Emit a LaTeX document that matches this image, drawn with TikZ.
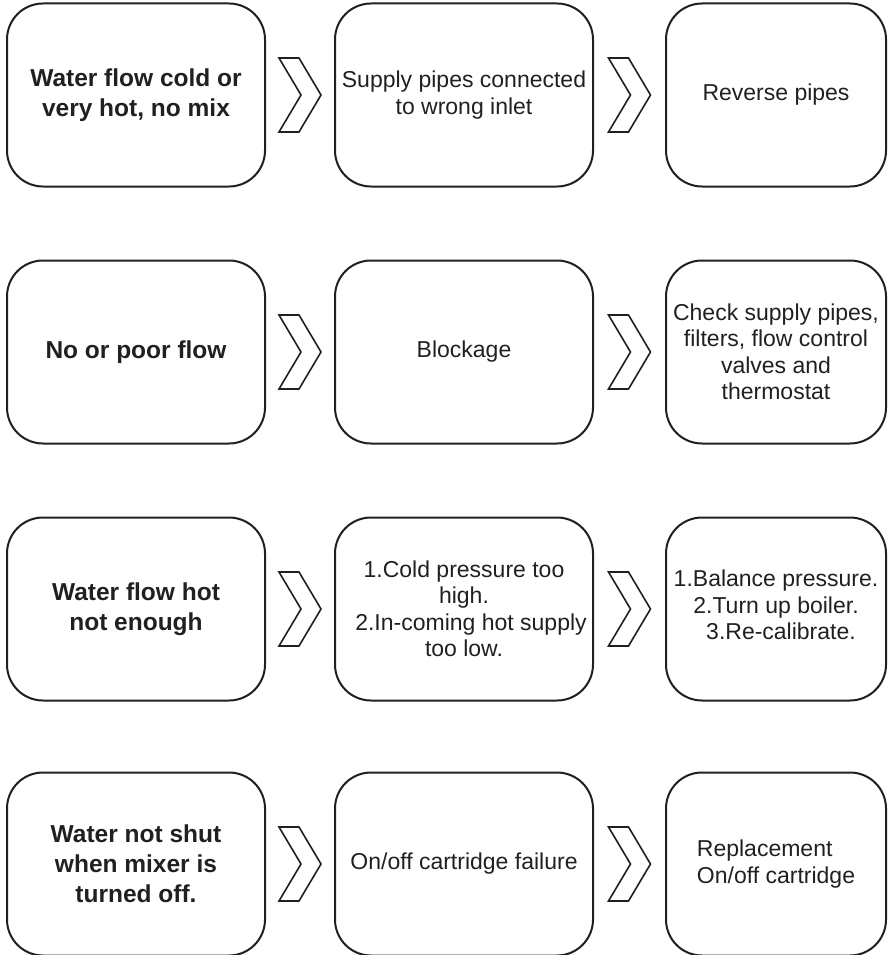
\documentclass[tikz,border=0pt]{standalone}
\usepackage{fontspec}
\setmainfont{Liberation Sans}
\usetikzlibrary{calc}
\definecolor{ink}{HTML}{231F20}
\tikzset{
  cellbox/.style={draw=ink, line width=2pt, rounded corners=36pt, text=ink,
    minimum width=258pt, minimum height=183pt, inner sep=2pt, align=center,
    font=\fontsize{23}{26.5}\selectfont},
  cellnarrow/.style={cellbox, minimum width=220pt},
  faultbox/.style={cellbox, font=\fontsize{24.5}{30}\selectfont\bfseries},
  chev/.style={draw=ink, line width=1.6pt, line join=miter}
}
\newcommand\chevron[2]{%
  \draw[chev, shift={($(#1.east)!0.5!(#2.west)$)}]
    (-21,-37) -- (-1,-37) -- (21,0) -- (-1,37) -- (-21,37) -- (1,0) -- cycle;}
\begin{document}
\begin{tikzpicture}[x=1pt, y=-1pt]
\useasboundingbox (0,0) rectangle (889,955);
% row 1
\node[faultbox] (fault1) at (136,95) {Water flow cold or\\very hot, no mix};
\node[cellbox] (cause1) at (464,95) {Supply pipes connected\\to wrong inlet};
\node[cellnarrow] (fix1) at (776,95) {Reverse pipes};
\chevron{fault1}{cause1}
\chevron{cause1}{fix1}
% row 2
\node[faultbox] (fault2) at (136,352) {No or poor flow};
\node[cellbox] (cause2) at (464,352) {Blockage};
\node[cellnarrow] (fix2) at (776,352) {Check supply pipes,\\filters, flow control\\valves and\\thermostat};
\chevron{fault2}{cause2}
\chevron{cause2}{fix2}
% row 3
\node[faultbox] (fault3) at (136,609) {Water flow hot\\not enough};
\node[cellbox] (cause3) at (464,609) {1.Cold pressure too\\high.\\\hspace{14pt}2.In-coming hot supply\\too low.};
\node[cellnarrow] (fix3) at (776,609) {1.Balance pressure.\\2.Turn up boiler.\\\hspace{10pt}3.Re-calibrate.\\[-18pt]};
\chevron{fault3}{cause3}
\chevron{cause3}{fix3}
% row 4
\node[faultbox] (fault4) at (136,864) {Water not shut\\when mixer is\\turned off.};
\node[cellbox] (cause4) at (464,864) {On/off cartridge failure};
\node[cellnarrow, align=left] (fix4) at (776,864) {Replacement\\On/off cartridge};
\chevron{fault4}{cause4}
\chevron{cause4}{fix4}
\end{tikzpicture}
\end{document}
